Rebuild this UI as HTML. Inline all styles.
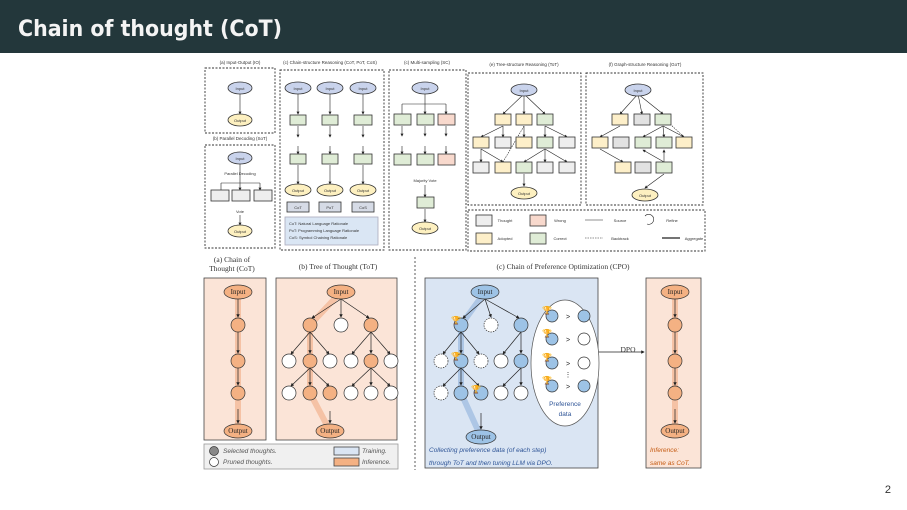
<!DOCTYPE html>
<html><head><meta charset="utf-8">
<style>
html,body{margin:0;padding:0;background:#fff;}
body{width:907px;height:510px;overflow:hidden;position:relative;font-family:"Liberation Sans",sans-serif;}
.bar{position:absolute;left:0;top:0;width:907px;height:53px;background:#23373b;}
.pg{position:absolute;right:16px;bottom:14px;font-size:11px;color:#333;}
svg{position:absolute;left:0;top:0;}
</style></head><body>
<div class="bar"><svg width="907" height="53"><text x="18" y="36" font-family="DejaVu Sans, Liberation Sans, sans-serif" font-weight="bold" font-size="22" fill="#f4f4f4" textLength="264" lengthAdjust="spacingAndGlyphs">Chain of thought (CoT)</text></svg></div>
<svg width="907" height="510" viewBox="0 0 907 510" font-family="Liberation Sans, sans-serif" style="top:0">
<defs>
<marker id="ar" markerWidth="5" markerHeight="5" refX="4" refY="2.5" orient="auto"><path d="M0,0L5,2.5L0,5z" fill="#222"/></marker>
</defs>
<g font-size="4.5" fill="#333" text-anchor="middle">
<text x="240" y="64">(a) Input-Output (IO)</text>
<text x="240" y="140">(b) Parallel Decoding (SoT)</text>
<text x="330" y="64">(c) Chain-structure Reasoning (CoT, PoT, CoS)</text>
<text x="427" y="64">(c) Multi-sampling (SC)</text>
<text x="524" y="66">(e) Tree-structure Reasoning (ToT)</text>
<text x="645" y="66">(f) Graph-structure Reasoning (GoT)</text>
</g>
<g fill="none" stroke="#333" stroke-width="0.9" stroke-dasharray="2,1.5">
<rect x="205" y="68" width="70" height="65"/>
<rect x="205" y="145" width="70" height="103"/>
<rect x="280" y="70" width="104" height="180"/>
<rect x="389" y="70" width="77" height="180"/>
<rect x="468" y="73" width="113" height="132"/>
<rect x="586" y="73" width="117" height="132"/>
<rect x="468" y="210" width="237" height="41"/>
</g>
<g stroke="#222" stroke-width="0.6" fill="none" marker-end="url(#ar)">
<line x1="240" y1="92" x2="240" y2="114"/>
<line x1="240" y1="163" x2="240" y2="190"/><path d="M221,183H260M221,183V190M260,183V190"/>
<line x1="240" y1="215" x2="240" y2="225"/>
<line x1="298" y1="93" x2="298" y2="114"/><line x1="330" y1="93" x2="330" y2="114"/><line x1="363" y1="93" x2="363" y2="114"/>
<line x1="298" y1="126" x2="298" y2="137"/><line x1="330" y1="126" x2="330" y2="137"/><line x1="363" y1="126" x2="363" y2="137"/>
<line x1="298" y1="146" x2="298" y2="154"/><line x1="330" y1="146" x2="330" y2="154"/><line x1="363" y1="146" x2="363" y2="154"/>
<line x1="298" y1="165" x2="298" y2="184"/><line x1="330" y1="165" x2="330" y2="184"/><line x1="363" y1="165" x2="363" y2="184"/>
<line x1="425" y1="93" x2="425" y2="114"/><path d="M402,104H446M402,104V114M446,104V114"/>
<line x1="402" y1="126" x2="402" y2="136"/><line x1="425" y1="126" x2="425" y2="136"/><line x1="446" y1="126" x2="446" y2="136"/>
<line x1="402" y1="146" x2="402" y2="154"/><line x1="425" y1="146" x2="425" y2="154"/><line x1="446" y1="146" x2="446" y2="154"/>
<line x1="425" y1="185" x2="425" y2="197"/><line x1="425" y1="209" x2="425" y2="222"/>
<line x1="524" y1="94" x2="503" y2="114"/><line x1="524" y1="94" x2="524" y2="114"/><line x1="524" y1="94" x2="545" y2="114"/>
<line x1="503" y1="126" x2="481" y2="137"/><line x1="503" y1="126" x2="503" y2="137"/><line x1="524" y1="126" x2="524" y2="137"/><line x1="545" y1="126" x2="545" y2="137"/><line x1="545" y1="126" x2="567" y2="137"/>
<line x1="481" y1="149" x2="481" y2="162"/><line x1="481" y1="149" x2="503" y2="162"/>
<line x1="545" y1="149" x2="524" y2="162"/><line x1="545" y1="149" x2="545" y2="162"/><line x1="545" y1="149" x2="567" y2="162"/>
<line x1="524" y1="174" x2="524" y2="186"/>
<line x1="638" y1="94" x2="620" y2="114"/><line x1="638" y1="94" x2="642" y2="114"/><line x1="638" y1="94" x2="663" y2="114"/>
<line x1="620" y1="126" x2="600" y2="137"/><line x1="663" y1="126" x2="643" y2="137"/><line x1="663" y1="126" x2="664" y2="137"/><line x1="663" y1="126" x2="684" y2="137"/>
<line x1="600" y1="149" x2="623" y2="162"/><line x1="664" y1="162" x2="664" y2="150"/><line x1="664" y1="162" x2="643" y2="150"/>
<line x1="664" y1="174" x2="645" y2="188"/>
</g>
<g stroke="#222" stroke-width="0.6" fill="none" stroke-dasharray="1.5,1">
<line x1="503" y1="162" x2="524" y2="126"/><line x1="684" y1="137" x2="670" y2="124"/>
</g>
<g stroke="#333" stroke-width="0.8">
<ellipse cx="240" cy="88" rx="12" ry="6" fill="#c9d3ec"/><ellipse cx="240" cy="120" rx="12" ry="6" fill="#fdf0c0"/>
<ellipse cx="240" cy="158" rx="12" ry="6" fill="#c9d3ec"/><ellipse cx="240" cy="231" rx="12" ry="6" fill="#fdf0c0"/>
<rect x="211" y="190" width="18" height="11" fill="#eee"/><rect x="232" y="190" width="18" height="11" fill="#eee"/><rect x="254" y="190" width="18" height="11" fill="#eee"/>
<ellipse cx="298" cy="88" rx="13" ry="6" fill="#c9d3ec"/><ellipse cx="330" cy="88" rx="13" ry="6" fill="#c9d3ec"/><ellipse cx="363" cy="88" rx="13" ry="6" fill="#c9d3ec"/>
<rect x="290" y="115" width="16" height="10" fill="#dfecd6"/><rect x="322" y="115" width="16" height="10" fill="#dfecd6"/><rect x="354" y="115" width="18" height="10" fill="#dfecd6"/>
<rect x="290" y="154" width="16" height="10" fill="#dfecd6"/><rect x="322" y="154" width="16" height="10" fill="#dfecd6"/><rect x="354" y="154" width="18" height="10" fill="#dfecd6"/>
<ellipse cx="298" cy="190" rx="13" ry="6" fill="#fdf0c0"/><ellipse cx="330" cy="190" rx="13" ry="6" fill="#fdf0c0"/><ellipse cx="363" cy="190" rx="13" ry="6" fill="#fdf0c0"/>
<rect x="287" y="202" width="22" height="10" fill="#d6dbe6"/><rect x="319" y="202" width="22" height="10" fill="#d6dbe6"/><rect x="352" y="202" width="22" height="10" fill="#d6dbe6"/>
<rect x="285" y="217" width="93" height="28" fill="#dae6f4" stroke="#aab"/>
<ellipse cx="425" cy="88" rx="13" ry="6" fill="#c9d3ec"/>
<rect x="394" y="114" width="17" height="11" fill="#dfecd6"/><rect x="417" y="114" width="17" height="11" fill="#dfecd6"/><rect x="438" y="114" width="17" height="11" fill="#f8d9cd"/>
<rect x="394" y="154" width="17" height="11" fill="#dfecd6"/><rect x="417" y="154" width="17" height="11" fill="#dfecd6"/><rect x="438" y="154" width="17" height="11" fill="#f8d9cd"/>
<rect x="417" y="197" width="17" height="11" fill="#dfecd6"/><ellipse cx="425" cy="228" rx="13" ry="6" fill="#fdf0c0"/>
<ellipse cx="524" cy="90" rx="13" ry="6" fill="#c9d3ec"/><ellipse cx="524" cy="193" rx="13" ry="6" fill="#fdf0c0"/>
<rect x="495" y="114" width="16" height="11" fill="#fdefc9"/><rect x="516" y="114" width="16" height="11" fill="#fdefc9"/><rect x="537" y="114" width="16" height="11" fill="#dfecd6"/>
<rect x="473" y="137" width="16" height="11" fill="#fdefc9"/><rect x="495" y="137" width="16" height="11" fill="#eee"/><rect x="516" y="137" width="16" height="11" fill="#fdefc9"/><rect x="537" y="137" width="16" height="11" fill="#dfecd6"/><rect x="559" y="137" width="16" height="11" fill="#eee"/>
<rect x="473" y="162" width="16" height="11" fill="#eee"/><rect x="495" y="162" width="16" height="11" fill="#fdefc9"/><rect x="516" y="162" width="16" height="11" fill="#dfecd6"/><rect x="537" y="162" width="16" height="11" fill="#eee"/><rect x="559" y="162" width="16" height="11" fill="#eee"/>
<ellipse cx="638" cy="90" rx="13" ry="6" fill="#c9d3ec"/><ellipse cx="645" cy="195" rx="13" ry="6" fill="#fdf0c0"/>
<rect x="612" y="114" width="16" height="11" fill="#fdefc9"/><rect x="634" y="114" width="16" height="11" fill="#e2e2e2"/><rect x="655" y="114" width="16" height="11" fill="#dfecd6"/>
<rect x="592" y="137" width="16" height="11" fill="#fdefc9"/><rect x="613" y="137" width="16" height="11" fill="#e2e2e2"/><rect x="635" y="137" width="16" height="11" fill="#dfecd6"/><rect x="656" y="137" width="16" height="11" fill="#dfecd6"/><rect x="676" y="137" width="16" height="11" fill="#fdefc9"/>
<rect x="615" y="162" width="16" height="11" fill="#fdefc9"/><rect x="635" y="162" width="16" height="11" fill="#e2e2e2"/><rect x="656" y="162" width="16" height="11" fill="#dfecd6"/>
<rect x="476" y="215" width="16" height="11" fill="#eee"/><rect x="476" y="233" width="16" height="11" fill="#fdefc9"/><rect x="530" y="215" width="16" height="11" fill="#f8d9cd"/><rect x="530" y="233" width="16" height="11" fill="#dfecd6"/>
</g>
<g stroke="#222" stroke-width="0.6"><line x1="585" y1="220" x2="603" y2="220"/><line x1="585" y1="238" x2="603" y2="238" stroke-dasharray="1.5,1"/><line x1="662" y1="238" x2="680" y2="238" stroke-width="1.2"/><path d="M645,216a5,5 0 1 1 2,8" fill="none"/></g>
<g font-size="4" fill="#333" text-anchor="middle">
<text x="240" y="90">Input</text><text x="240" y="122">Output</text><text x="240" y="160">Input</text><text x="240" y="175">Parallel Decoding</text><text x="240" y="213">Vote</text><text x="240" y="233">Output</text>
<text x="298" y="90">Input</text><text x="330" y="90">Input</text><text x="363" y="90">Input</text>
<text x="298" y="192">Output</text><text x="330" y="192">Output</text><text x="363" y="192">Output</text>
<text x="298" y="209">CoT</text><text x="330" y="209">PoT</text><text x="363" y="209">CoS</text>
<text x="425" y="90">Input</text><text x="425" y="182">Majority Vote</text><text x="425" y="230">Output</text>
<text x="524" y="92">Input</text><text x="524" y="195">Output</text><text x="638" y="92">Input</text><text x="645" y="197">Output</text>
<text x="505" y="222">Thought</text><text x="505" y="240">Adopted</text><text x="560" y="222">Wrong</text><text x="560" y="240">Correct</text>
<text x="620" y="222">Source</text><text x="620" y="240">Backtrack</text><text x="672" y="222">Refine</text><text x="694" y="240">Aggregate</text>
</g>
<g font-size="4" fill="#333"><text x="289" y="225">CoT: Natural Language Rationale</text><text x="289" y="232">PoT: Programming Language Rationale</text><text x="289" y="239">CoS: Symbol Chaining Rationale</text></g>

<g font-family="Liberation Serif, serif" font-size="7.5" fill="#333" text-anchor="middle">
<text x="232" y="262">(a) Chain of</text><text x="232" y="271">Thought (CoT)</text>
<text x="338" y="269">(b) Tree of Thought (ToT)</text><text x="563" y="269">(c) Chain of Preference Optimization (CPO)</text>
<text x="628" y="352">DPO</text>
</g>
<line x1="415" y1="257" x2="415" y2="470" stroke="#333" stroke-width="0.8" stroke-dasharray="2,2"/>
<g stroke="#444" stroke-width="0.8">
<rect x="204" y="278" width="62" height="162" fill="#fbe4d7"/>
<rect x="276" y="278" width="121" height="162" fill="#fbe4d7"/>
<rect x="425" y="278" width="173" height="190" fill="#dae5f3"/>
<rect x="646" y="278" width="55" height="190" fill="#fbe4d7"/>
<rect x="204" y="444" width="194" height="25" fill="#f0f0f0" stroke="#999"/>
<rect x="334" y="447" width="25" height="8" fill="#dae5f3"/><rect x="334" y="458" width="25" height="8" fill="#f4b183"/>
</g>
<g stroke="#f0a57c" stroke-width="6" opacity="0.55" fill="none">
<path d="M341,292L310,325L310,393L330,431"/><path d="M238,292V431"/><path d="M675,292V431"/>
</g>
<path d="M485,292L461,325L461,393L481,437" stroke="#7fa7d8" stroke-width="6" opacity="0.5" fill="none"/>
<g stroke="#222" stroke-width="0.7" marker-end="url(#ar)" fill="none">
<line x1="238" y1="299" x2="238" y2="317"/><line x1="238" y1="332" x2="238" y2="353"/><line x1="238" y1="368" x2="238" y2="385"/><line x1="238" y1="409" x2="238" y2="423"/>
<line x1="675" y1="299" x2="675" y2="317"/><line x1="675" y1="332" x2="675" y2="353"/><line x1="675" y1="368" x2="675" y2="385"/><line x1="675" y1="409" x2="675" y2="423"/>
<line x1="341" y1="299" x2="312" y2="318"/><line x1="341" y1="299" x2="341" y2="317"/><line x1="341" y1="299" x2="369" y2="318"/>
<line x1="310" y1="332" x2="291" y2="354"/><line x1="310" y1="332" x2="310" y2="353"/><line x1="310" y1="332" x2="329" y2="354"/>
<line x1="371" y1="332" x2="352" y2="354"/><line x1="371" y1="332" x2="371" y2="353"/><line x1="371" y1="332" x2="390" y2="354"/>
<line x1="310" y1="368" x2="291" y2="386"/><line x1="310" y1="368" x2="310" y2="385"/><line x1="310" y1="368" x2="329" y2="386"/>
<line x1="371" y1="368" x2="352" y2="386"/><line x1="371" y1="368" x2="371" y2="385"/><line x1="371" y1="368" x2="390" y2="386"/>
<line x1="330" y1="411" x2="330" y2="423"/>
<line x1="485" y1="299" x2="463" y2="318"/><line x1="485" y1="299" x2="491" y2="317"/><line x1="485" y1="299" x2="519" y2="318"/>
<line x1="461" y1="332" x2="443" y2="354"/><line x1="461" y1="332" x2="461" y2="353"/><line x1="461" y1="332" x2="479" y2="354"/>
<line x1="521" y1="332" x2="503" y2="354"/><line x1="521" y1="332" x2="521" y2="353"/>
<line x1="461" y1="368" x2="443" y2="386"/><line x1="461" y1="368" x2="461" y2="385"/><line x1="461" y1="368" x2="479" y2="386"/>
<line x1="521" y1="368" x2="503" y2="386"/><line x1="521" y1="368" x2="521" y2="385"/>
<line x1="481" y1="413" x2="481" y2="429"/>
<line x1="598" y1="352" x2="644" y2="352"/>
</g>
<g stroke="#333" stroke-width="0.7">
<ellipse cx="238" cy="292" rx="14" ry="7" fill="#f4b183"/><ellipse cx="238" cy="431" rx="14" ry="7" fill="#f4b183"/>
<circle cx="238" cy="325" r="7" fill="#f4b183"/><circle cx="238" cy="361" r="7" fill="#f4b183"/><circle cx="238" cy="393" r="7" fill="#f4b183"/>
<ellipse cx="675" cy="292" rx="14" ry="7" fill="#f4b183"/><ellipse cx="675" cy="431" rx="14" ry="7" fill="#f4b183"/>
<circle cx="675" cy="325" r="7" fill="#f4b183"/><circle cx="675" cy="361" r="7" fill="#f4b183"/><circle cx="675" cy="393" r="7" fill="#f4b183"/>
<ellipse cx="341" cy="292" rx="14" ry="7" fill="#f4b183"/><ellipse cx="330" cy="431" rx="14" ry="7" fill="#f4b183"/>
<circle cx="310" cy="325" r="7" fill="#f4b183"/><circle cx="341" cy="325" r="7" fill="#fff"/><circle cx="371" cy="325" r="7" fill="#f4b183"/>
<circle cx="289" cy="361" r="7" fill="#fff"/><circle cx="310" cy="361" r="7" fill="#f4b183"/><circle cx="330" cy="361" r="7" fill="#fff"/><circle cx="351" cy="361" r="7" fill="#fff"/><circle cx="371" cy="361" r="7" fill="#f4b183"/><circle cx="391" cy="361" r="7" fill="#fff"/>
<circle cx="289" cy="393" r="7" fill="#fff"/><circle cx="310" cy="393" r="7" fill="#f4b183"/><circle cx="330" cy="393" r="7" fill="#f4b183"/><circle cx="351" cy="393" r="7" fill="#fff"/><circle cx="371" cy="393" r="7" fill="#fff"/><circle cx="391" cy="393" r="7" fill="#fff"/>
<ellipse cx="485" cy="292" rx="14" ry="7" fill="#9dc3e6"/><ellipse cx="481" cy="437" rx="15" ry="7" fill="#9dc3e6"/>
<circle cx="461" cy="325" r="7" fill="#9dc3e6"/><circle cx="491" cy="325" r="7" fill="#fff" stroke-dasharray="1.5,1"/><circle cx="521" cy="325" r="7" fill="#9dc3e6"/>
<circle cx="441" cy="361" r="7" fill="#fff" stroke-dasharray="1.5,1"/><circle cx="461" cy="361" r="7" fill="#9dc3e6"/><circle cx="481" cy="361" r="7" fill="#fff" stroke-dasharray="1.5,1"/><circle cx="501" cy="361" r="7" fill="#fff"/><circle cx="521" cy="361" r="7" fill="#9dc3e6"/>
<circle cx="441" cy="393" r="7" fill="#fff" stroke-dasharray="1.5,1"/><circle cx="461" cy="393" r="7" fill="#9dc3e6"/><circle cx="481" cy="393" r="7" fill="#9dc3e6"/><circle cx="501" cy="393" r="7" fill="#fff"/><circle cx="521" cy="393" r="7" fill="#fff"/>
<ellipse cx="565" cy="363" rx="34" ry="63" fill="#fff" stroke="#555"/>
<circle cx="552" cy="316" r="6" fill="#9dc3e6"/><circle cx="584" cy="316" r="6" fill="#9dc3e6"/>
<circle cx="552" cy="339" r="6" fill="#9dc3e6"/><circle cx="584" cy="339" r="6" fill="#fff"/>
<circle cx="552" cy="363" r="6" fill="#9dc3e6"/><circle cx="584" cy="363" r="6" fill="#fff"/>
<circle cx="552" cy="386" r="6" fill="#9dc3e6"/><circle cx="584" cy="386" r="6" fill="#9dc3e6"/>
<circle cx="214" cy="451" r="4.5" fill="#888"/><circle cx="214" cy="462" r="4.5" fill="#fff"/>
</g>
<g fill="#d4a017" font-size="8" text-anchor="middle"><text x="547" y="313">🏆</text><text x="547" y="336">🏆</text><text x="547" y="360">🏆</text><text x="547" y="383">🏆</text><text x="456" y="323">🏆</text><text x="456" y="359">🏆</text><text x="476" y="392">🏆</text></g>
<g font-size="7" fill="#222" text-anchor="middle">
<text x="568" y="319">&gt;</text><text x="568" y="342">&gt;</text><text x="568" y="366">&gt;</text><text x="568" y="389">&gt;</text><text x="568" y="377">⋮</text>
<text x="565" y="406" font-size="6.5" fill="#2f5597">Preference</text><text x="565" y="416" font-size="6.5" fill="#2f5597">data</text>
<text x="238" y="294" font-family="Liberation Serif,serif">Input</text><text x="238" y="433" font-family="Liberation Serif,serif">Output</text>
<text x="341" y="294" font-family="Liberation Serif,serif">Input</text><text x="330" y="433" font-family="Liberation Serif,serif">Output</text>
<text x="485" y="294" font-family="Liberation Serif,serif">Input</text><text x="481" y="439" font-family="Liberation Serif,serif">Output</text>
<text x="675" y="294" font-family="Liberation Serif,serif">Input</text><text x="675" y="433" font-family="Liberation Serif,serif">Output</text>
</g>
<g font-size="6.5" font-style="italic" fill="#2f5597">
<text x="429" y="452">Collecting preference data (of each step)</text><text x="429" y="465">through ToT and then tuning LLM via DPO.</text>
</g>
<g font-size="6.5" font-style="italic" fill="#c55a11"><text x="650" y="452">Inference:</text><text x="650" y="465">same as CoT.</text></g>
<g font-size="6.5" font-style="italic" fill="#555">
<text x="223" y="453">Selected thoughts.</text><text x="223" y="464">Pruned thoughts.</text><text x="362" y="453">Training.</text><text x="362" y="464">Inference.</text>
</g>
</svg>
<div class="pg">2</div>
</body></html>
